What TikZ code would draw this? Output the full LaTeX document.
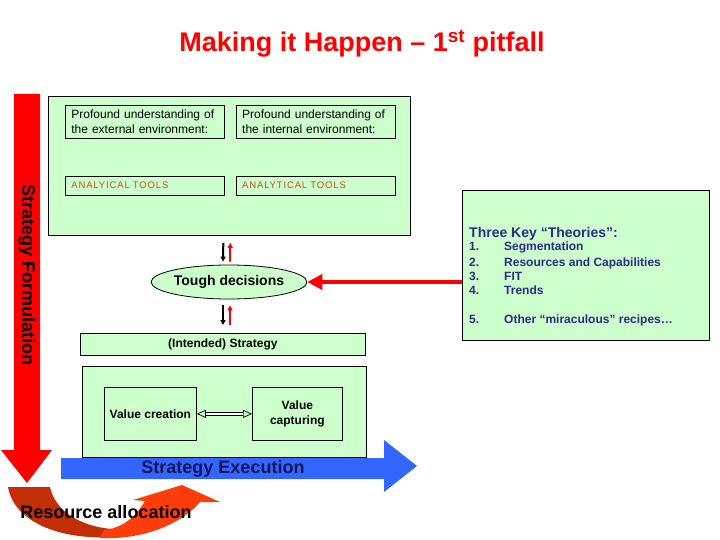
\documentclass[tikz,border=0pt]{standalone}
\usepackage{fontspec}
\setmainfont{Liberation Sans}
\usetikzlibrary{positioning, arrows.meta, shapes.geometric, calc}
\definecolor{slideRed}{HTML}{FF0000}
\definecolor{paleGreen}{HTML}{CCFFCC}
\definecolor{toolBrown}{HTML}{C0501E}
\definecolor{navyText}{HTML}{2B2B85}
\definecolor{execBlue}{HTML}{3366FF}
\definecolor{execNavy}{HTML}{14145A}
\definecolor{allocDark}{HTML}{C42E06}
\definecolor{allocLight}{HTML}{FF3D0A}
\tikzset{
  every node/.style={font=\fontsize{12}{15}\selectfont},
  panel/.style={draw, fill=paleGreen, line width=0.8pt, anchor=north west},
  txtbox/.style={draw, line width=0.8pt, inner xsep=6pt, text width=147pt, minimum height=33pt,
                 align=left, font=\fontsize{12}{15}\selectfont},
  toolbox/.style={txtbox, minimum height=19pt, text=toolBrown,
                  font=\fontsize{9.5}{11}\selectfont\addfontfeature{LetterSpace=9}},
  valbox/.style={draw, line width=0.8pt, minimum height=53pt, align=center,
                 font=\bfseries\fontsize{12}{15}\selectfont},
  upArr/.style={-{Triangle[length=5pt, width=5pt]}, line width=2pt, slideRed},
  downArr/.style={-{Triangle[length=5pt, width=5pt]}, line width=2pt, black},
  bigArr/.style={-{Triangle[length=15pt, width=15pt]}, line width=4pt, slideRed},
  theory/.style={text=navyText, anchor=base west, inner sep=0pt, font=\bfseries\fontsize{12}{14}\selectfont},
}

\begin{document}
\begin{tikzpicture}[x=1pt, y=-1pt]
  \useasboundingbox (0,0) rectangle (720,540);
  \node[font=\bfseries\fontsize{27}{30}\selectfont, text=slideRed] (title) at (362,44)
    {Making it Happen -- 1\textsuperscript{st} pitfall};
  % formulation arrow
  \fill[slideRed] (14,94) -- (40,94) -- (40,450) -- (52,450) -- (27,483) -- (1,450) -- (14,450) -- cycle;
  \node[rotate=-90, font=\bfseries\fontsize{18}{20}\selectfont] (formul) at (27,275) {Strategy Formulation};
  % analysis panel
  \node[panel, minimum width=362, minimum height=139] (analysis) at (48,96) {};
  \node[txtbox, anchor=north west] (extEnv) at (65,105) {Profound understanding of\\the external environment:};
  \node[txtbox, right=11pt of extEnv] (intEnv) {Profound understanding of\\the internal environment:};
  \node[toolbox, below=37pt of extEnv] (extTools) {ANALYICAL TOOLS};
  \node[toolbox, below=37pt of intEnv] (intTools) {ANALYTICAL TOOLS};
  % decisions
  \node[ellipse, draw, fill=paleGreen, line width=0.8pt, minimum width=135pt, minimum height=34pt,
        inner sep=0pt, font=\bfseries\fontsize{14}{16}\selectfont] (tough) at (229,282) {Tough decisions};
  \draw[downArr, shorten <=7pt, shorten >=3pt] ([xshift=-6pt]analysis.south) -- ([xshift=-6pt]tough.north);
  \draw[upArr, shorten <=3pt, shorten >=7pt] ([xshift=1pt]tough.north) -- ([xshift=1pt]analysis.south);
  \node[panel, minimum width=285, minimum height=22] (intended) at (80,333) {};
  \node (intendedTxt) at (intended.center) {\bfseries (Intended) Strategy};
  \draw[downArr, shorten <=6pt, shorten >=8pt] ([xshift=-6pt]tough.south) -- ([xshift=-6pt]tough.south |- intended.north);
  \draw[upArr, shorten <=8pt, shorten >=6pt] ([xshift=1pt]tough.south |- intended.north) -- ([xshift=1pt]tough.south);
  % value panel
  \node[panel, minimum width=284, minimum height=91] (valuePanel) at (82,366) {};
  \node[valbox, minimum width=92pt, anchor=north west] (valCreate) at (104,387) {Value creation};
  \node[valbox, minimum width=90pt, anchor=north west] (valCapture) at (252,387) {Value\\capturing};
  \draw[double, double distance=2pt, line width=0.7pt,
        {Triangle[open, length=9pt, width=8pt]}-{Triangle[open, length=9pt, width=8pt]}]
    (valCreate.east) -- (valCapture.west);
  % execution arrow
  \fill[execBlue] (61,458) -- (384,458) -- (384,440) -- (417,466) -- (384,492) -- (384,479) -- (61,479) -- cycle;
  \node[font=\bfseries\fontsize{18}{20}\selectfont, text=execNavy] (exec) at (223,469) {Strategy Execution};
  % resource allocation swoosh
  \fill[allocDark] (8,487) .. controls (14,522) and (60,540) .. (112,537)
    -- (112,529) .. controls (78,526) and (55,510) .. (50,487) -- cycle;
  \fill[allocLight] (100,538) .. controls (150,540) and (185,520) .. (200,502) -- (220,502) -- (182,485)
    -- (133,500) -- (145,501) .. controls (135,518) and (122,528) .. (104,530) -- cycle;
  \node[font=\bfseries\fontsize{18}{20}\selectfont] (alloc) at (106,512) {Resource allocation};
  % theories panel
  \node[panel, minimum width=247, minimum height=150] (theories) at (462,190) {};
  \node[theory, font=\bfseries\fontsize{14}{16}\selectfont] (keyHead) at (469,237) {Three Key \char"201C Theories\char"201D:};
  \foreach \n/\t/\y in {1/Segmentation/251, 2/Resources and Capabilities/266, 3/FIT/280, 4/Trends/294} {
    \node[theory] (num\n) at (469,\y) {\n.};
    \node[theory] (item\n) at (504,\y) {\t};
  }
  \node[theory] (num5) at (469,323) {5.};
  \node[theory] (item5) at (504,323) {Other \char"201C miraculous\char"201D{} recipes\ldots};
  \draw[bigArr] (theories.west |- tough.east) -- (tough.east);
\end{tikzpicture}
\end{document}
